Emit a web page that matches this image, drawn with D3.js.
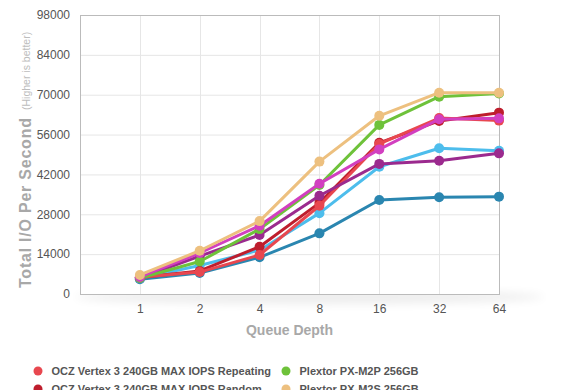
<!DOCTYPE html>
<html><head><meta charset="utf-8">
<script src="https://cdn.jsdelivr.net/npm/d3@7"></script>
<style>body{margin:0;background:#fff}svg{display:block}</style>
</head><body><svg id="c" width="580" height="390"></svg>
<script>
const queueDepths = ["1","2","4","8","16","32","64"];
const yTicks = [0,14000,28000,42000,56000,70000,84000,98000];
const seriesNames = [
  "OCZ Vertex 3 240GB MAX IOPS Repeating",
  "OCZ Vertex 3 240GB MAX IOPS Random",
  "Samsung 830 256GB",
  "Crucial m4 256GB",
  "Plextor PX-M2P 256GB",
  "Plextor PX-M2S 256GB",
  "Intel 520 240GB",
  "OCZ Octane 512GB"
];
const seriesColors = ["#e8474f","#be1e2d","#9b2a8e","#2a86b0","#6ec23a","#edc07f","#4dbdec","#d23fc0"];
const valRepeating = [5900, 7700, 13700, 31000, 52700, 61800, 60900];
const valRandom    = [5800, 8100, 16600, 32000, 53100, 60800, 63700];
const valPurple    = [5600, 13300, 20700, 34500, 45700, 46800, 49400];
const valTeal      = [5200, 7400, 12900, 21300, 33000, 34000, 34200];
const valGreen     = [5600, 11400, 22800, 38300, 59400, 69300, 70400];
const valTan       = [6700, 15200, 25600, 46500, 62600, 70700, 70700];
const valLightBlue = [5500, 10000, 15400, 28400, 44700, 51200, 50300];
const valMagenta   = [6000, 14400, 24000, 38700, 50800, 61400, 61700];
const allValues = [valRepeating, valRandom, valPurple, valTeal, valGreen, valTan, valLightBlue, valMagenta];
const drawOrder = [3, 6, 1, 0, 2, 4, 7, 5];

const svg = d3.select("#c");
const L = 80, R = 499, T = 15, B = 294;
const x = d3.scaleLinear().domain([-1, queueDepths.length - 1]).range([L, R]);
const y = d3.scaleLinear().domain([0, 98000]).range([B, T]);

const defs = svg.append("defs");
const f = defs.append("filter").attr("id","blur").attr("x","-20%").attr("y","-200%").attr("width","140%").attr("height","500%");
f.append("feGaussianBlur").attr("stdDeviation", 5);
svg.append("ellipse").attr("cx", (L+R)/2 + 20).attr("cy", B + 3).attr("rx", 235).attr("ry", 7)
  .attr("fill", "#000").attr("opacity", 0.07).attr("filter","url(#blur)");
svg.append("rect").attr("x", L).attr("y", T).attr("width", R-L).attr("height", B-T).attr("fill","#fff");

// grid
svg.append("g").selectAll("line").data(yTicks.slice(1,-1)).join("line")
  .attr("x1", L).attr("x2", R).attr("y1", d=>y(d)+0.5).attr("y2", d=>y(d)+0.5)
  .attr("stroke","#e6e6e6").attr("stroke-width",1);
svg.append("g").selectAll("line").data(queueDepths.slice(0,-1)).join("line")
  .attr("y1", T).attr("y2", B).attr("x1", (d,i)=>Math.round(x(i))+0.5).attr("x2", (d,i)=>Math.round(x(i))+0.5)
  .attr("stroke","#e6e6e6").attr("stroke-width",1);
svg.append("rect").attr("x", L+0.5).attr("y", T+0.5).attr("width", R-L).attr("height", B-T)
  .attr("fill","none").attr("stroke","#bbbbbb").attr("stroke-width",1);

// axes
const yAxis = d3.axisLeft(y).tickValues(yTicks).tickSize(0).tickPadding(10).tickFormat(d3.format("d"));
const gy = svg.append("g").attr("transform",`translate(${L},0)`).call(yAxis);
gy.select(".domain").remove();
gy.selectAll("text").attr("font-family","Liberation Sans, Arial, sans-serif").attr("font-size",12).attr("fill","#555");

const xAxis = d3.axisBottom(x).tickValues(d3.range(queueDepths.length)).tickSize(0).tickPadding(10).tickFormat(i=>queueDepths[i]);
const gx = svg.append("g").attr("transform",`translate(0,${B})`).call(xAxis);
gx.select(".domain").remove();
gx.selectAll("text").attr("font-family","Liberation Sans, Arial, sans-serif").attr("font-size",12).attr("fill","#555");

// titles
svg.append("text").attr("x",(L+R)/2).attr("y",335).attr("text-anchor","middle")
  .attr("font-family","Liberation Sans, Arial, sans-serif").attr("font-size",14).attr("font-weight","bold")
  .attr("fill","#a8a8a8").text("Queue Depth");
svg.append("text").attr("transform","translate(31,288) rotate(-90)")
  .attr("font-family","Liberation Sans, Arial, sans-serif").attr("fill","#a8a8a8")
  .attr("font-size",16).attr("font-weight","bold")
  .attr("textLength",170).attr("lengthAdjust","spacing")
  .text("Total I/O Per Second");
svg.append("text").attr("transform","translate(30,110) rotate(-90)")
  .attr("font-family","Liberation Sans, Arial, sans-serif").attr("fill","#bdbdbd")
  .attr("font-size",10.5)
  .text("(Higher is better)");

// lines
const line = d3.line().x((d,i)=>x(i)).y(d=>y(d));
const gs = svg.append("g");
drawOrder.forEach(si=>{
  const g = gs.append("g");
  g.append("path").datum(allValues[si]).attr("d", line).attr("fill","none")
    .attr("stroke", seriesColors[si]).attr("stroke-width",3).attr("stroke-linejoin","round");
  g.selectAll("circle").data(allValues[si]).join("circle")
    .attr("cx",(d,i)=>x(i)).attr("cy",d=>y(d)).attr("r",5).attr("fill",seriesColors[si]);
});

// legend
const rows = 4;
const lg = svg.append("g");
seriesNames.forEach((n,i)=>{
  const col = Math.floor(i/rows), row = i % rows;
  const cx = col === 0 ? 38 : 286;
  const cy = 371 + row*18;
  lg.append("circle").attr("cx",cx).attr("cy",cy).attr("r",4.5).attr("fill",seriesColors[i]);
  lg.append("text").attr("x",cx+13.5).attr("y",cy+4).attr("font-family","Liberation Sans, Arial, sans-serif")
    .attr("font-size",11).attr("font-weight","bold").attr("fill","#555").text(n);
});
</script></body></html>
